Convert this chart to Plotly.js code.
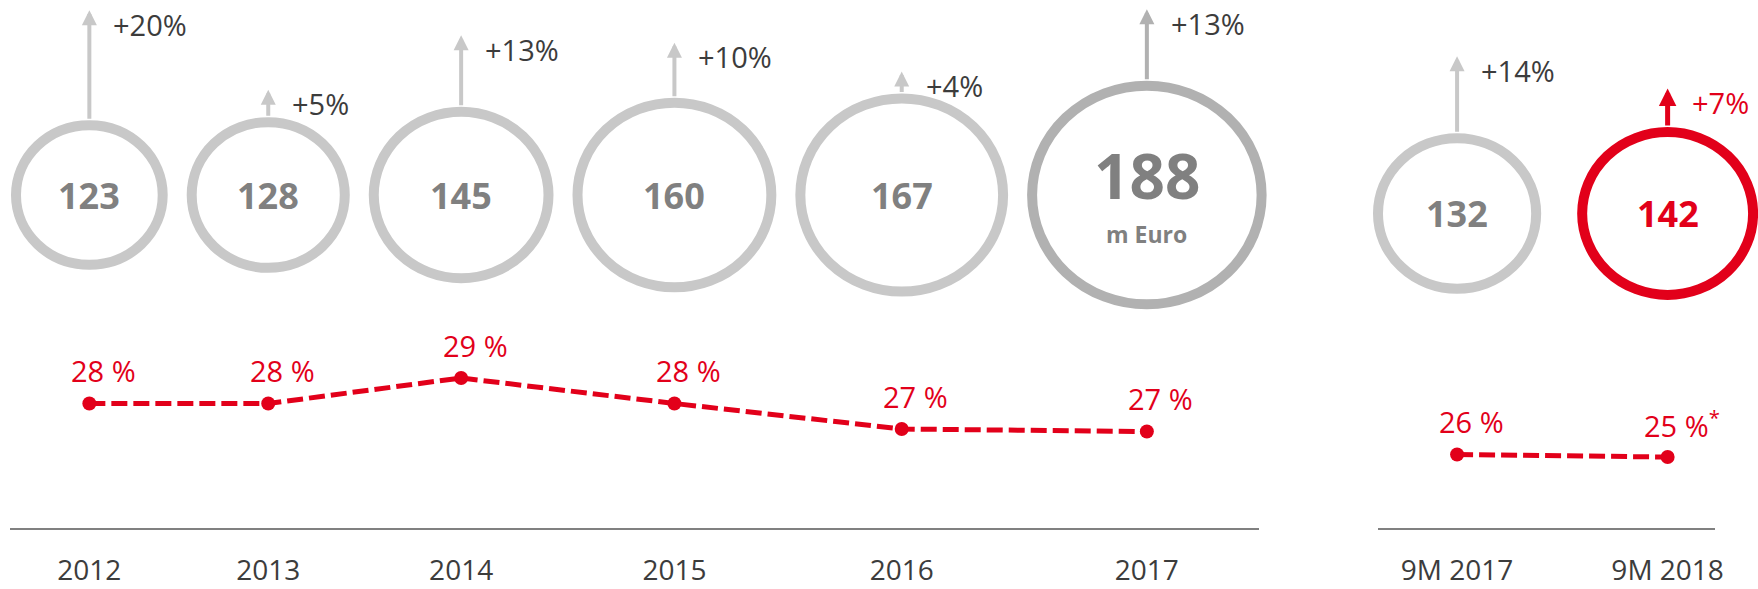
<!DOCTYPE html>
<html>
<head>
<meta charset="utf-8">
<script src="https://cdn.plot.ly/plotly-3.0.1.min.js"></script>
<style>
html,body{margin:0;padding:0;background:#ffffff;}
#chart{width:1758px;height:589px;}
</style>
</head>
<body>
<div id="chart"></div>
<script>
// ---------------- data ----------------
const yearCategories = ['2012', '2013', '2014', '2015', '2016', '2017'];
const yearRevenue = [123, 128, 145, 160, 167, 188];          // m Euro
const yearGrowth = [20, 5, 13, 10, 4, 13];                    // % growth vs previous year
const yearMargin = [28, 28, 29, 28, 27, 26.9];                // % margin
const yearMarginLabels = ['28 %', '28 %', '29 %', '28 %', '27 %', '27 %'];

const ninemCategories = ['9M 2017', '9M 2018'];
const ninemRevenue = [132, 142];
const ninemGrowth = [14, 7];
const ninemMargin = [26, 25.9];
const ninemMarginLabels = ['26 %', '25 %<sup>*</sup>'];

const unitLabel = 'm Euro';

// ---------------- layout constants ----------------
const W = 1758, H = 589;
const BASE_PX = 528;                 // baseline position from top
const RADIUS_PER_UNIT = 0.637;       // outer radius (px) per m Euro
const ELLIPSE_RATIO = 0.955;
const RING = 10;
const ARROW_PX_PER_PCT = 5.5;
const RED = '#e2001a';
const LIGHT = '#c8c8c8';
const DARK_RING = '#b1b1b1';
const VALUE_GREY = '#808080';
const TEXT_DARK = '#3c3c3c';
const FONT = 'Open Sans, Noto Sans, sans-serif';

const panels = [
  {cats: yearCategories, rev: yearRevenue, growth: yearGrowth, margin: yearMargin,
   mlabels: yearMarginLabels, start: 11, gap: 19, cy: 195, xa: 'x2', axisName: 'xaxis2',
   from: 10, to: 1259},
  {cats: ninemCategories, rev: ninemRevenue, growth: ninemGrowth, margin: ninemMargin,
   mlabels: ninemMarginLabels, start: 1373, gap: 36, cy: 213.5, xa: 'x3', axisName: 'xaxis3',
   from: 1378, to: 1715}
];

// pack circles side by side: radius proportional to revenue
panels.forEach(p => {
  p.cx = [];
  let edge = p.start;
  p.rev.forEach(v => {
    const r = v * RADIUS_PER_UNIT;
    p.cx.push(edge + r);
    edge += 2 * r + p.gap;
  });
});

const traces = [];
const shapes = [];
const annotations = [];

panels.forEach((p, pi) => {
  const n = p.cats.length;
  // margin line
  traces.push({
    type: 'scatter', mode: 'lines+markers',
    x: p.cx, y: p.margin, xaxis: p.xa, yaxis: 'y',
    line: {color: RED, width: 5, dash: '16px,6px'},
    marker: {color: RED, size: 14},
    hoverinfo: 'skip', showlegend: false
  });
  p.margin.forEach((m, i) => {
    annotations.push({
      x: p.cx[i], y: m, xref: p.xa, yref: 'y', text: p.mlabels[i],
      showarrow: false, xanchor: 'center', yanchor: 'middle',
      xshift: 14, yshift: 33,
      font: {family: FONT, size: 29, color: RED}
    });
  });

  p.rev.forEach((v, i) => {
    const isLastYear = (pi === 0 && i === n - 1);
    const isCurrent = (pi === 1 && i === n - 1);
    const ringColor = isCurrent ? RED : (isLastYear ? DARK_RING : LIGHT);
    const rOut = v * RADIUS_PER_UNIT;
    const rx = rOut - RING / 2;
    const ry = rOut * ELLIPSE_RATIO - RING / 2;
    const cx = p.cx[i], cy = p.cy;
    shapes.push({
      type: 'circle', xref: 'x', yref: 'y2',
      x0: cx - rx, x1: cx + rx, y0: cy - ry, y1: cy + ry,
      line: {color: ringColor, width: RING}, fillcolor: 'rgba(0,0,0,0)'
    });
    // value label
    const valColor = isCurrent ? RED : VALUE_GREY;
    annotations.push({
      x: cx, y: cy, xref: 'x', yref: 'y2', text: '<b>' + v + '</b>',
      showarrow: false, xanchor: 'center', yanchor: 'middle',
      yshift: isLastYear ? 20 : 0,
      font: {family: FONT, size: isLastYear ? 62 : 36, color: valColor}
    });
    if (isLastYear) {
      annotations.push({
        x: cx, y: cy, xref: 'x', yref: 'y2', text: '<b>' + unitLabel + '</b>',
        showarrow: false, xanchor: 'center', yanchor: 'middle', yshift: -39,
        font: {family: FONT, size: 23, color: VALUE_GREY}
      });
    }
    // growth arrow
    const top = cy - rOut * ELLIPSE_RATIO;
    const tip = top - p.growth[i] * ARROW_PX_PER_PCT;
    const arrowColor = isCurrent ? RED : (isLastYear ? DARK_RING : LIGHT);
    annotations.push({
      x: cx, y: tip, ax: cx, ay: top, xref: 'x', yref: 'y2', axref: 'x', ayref: 'y2',
      text: '', showarrow: true, arrowhead: 2, arrowsize: isCurrent ? 0.7 : 0.75,
      arrowwidth: isCurrent ? 5 : 4, arrowcolor: arrowColor, standoff: 0
    });
    annotations.push({
      x: cx, y: tip, xref: 'x', yref: 'y2', text: '+' + p.growth[i] + '%',
      showarrow: false, xanchor: 'left', yanchor: 'middle', xshift: 22, yshift: -14,
      font: {family: FONT, size: 29, color: isCurrent ? RED : TEXT_DARK}
    });
  });
});

// percent axis: 28 % at 403.5 px from top, 25.5 px per percentage point
const PX_PER_PCT = 25.5;
const yBottom = 28 - (BASE_PX - 403.5) / PX_PER_PCT;
const yTop = 28 + 403.5 / PX_PER_PCT;
const yDomain = [(H - BASE_PX) / H, 1];

const layout = {
  width: W, height: H,
  margin: {l: 0, r: 0, t: 0, b: 0, pad: 0},
  paper_bgcolor: '#ffffff', plot_bgcolor: 'rgba(0,0,0,0)',
  font: {family: FONT, color: TEXT_DARK},
  showlegend: false,
  xaxis: {domain: [0, 1], range: [0, W], visible: false, fixedrange: true},
  yaxis: {domain: yDomain, range: [yBottom, yTop], visible: false, fixedrange: true, anchor: 'x'},
  yaxis2: {overlaying: 'y', range: [BASE_PX, 0], visible: false, fixedrange: true, anchor: 'x'},
  shapes: shapes,
  annotations: annotations,
  hovermode: false
};
panels.forEach(p => {
  layout[p.axisName] = {
    domain: [p.from / W, p.to / W], range: [p.from, p.to], anchor: 'y',
    showline: true, linecolor: '#808080', linewidth: 2,
    showgrid: false, zeroline: false, ticks: '',
    tickmode: 'array', tickvals: p.cx, ticktext: p.cats,
    tickfont: {family: FONT, size: 28, color: TEXT_DARK},
    ticklabelstandoff: 16, fixedrange: true
  };
});

Plotly.newPlot('chart', traces, layout, {staticPlot: true, displayModeBar: false});
</script>
</body>
</html>
